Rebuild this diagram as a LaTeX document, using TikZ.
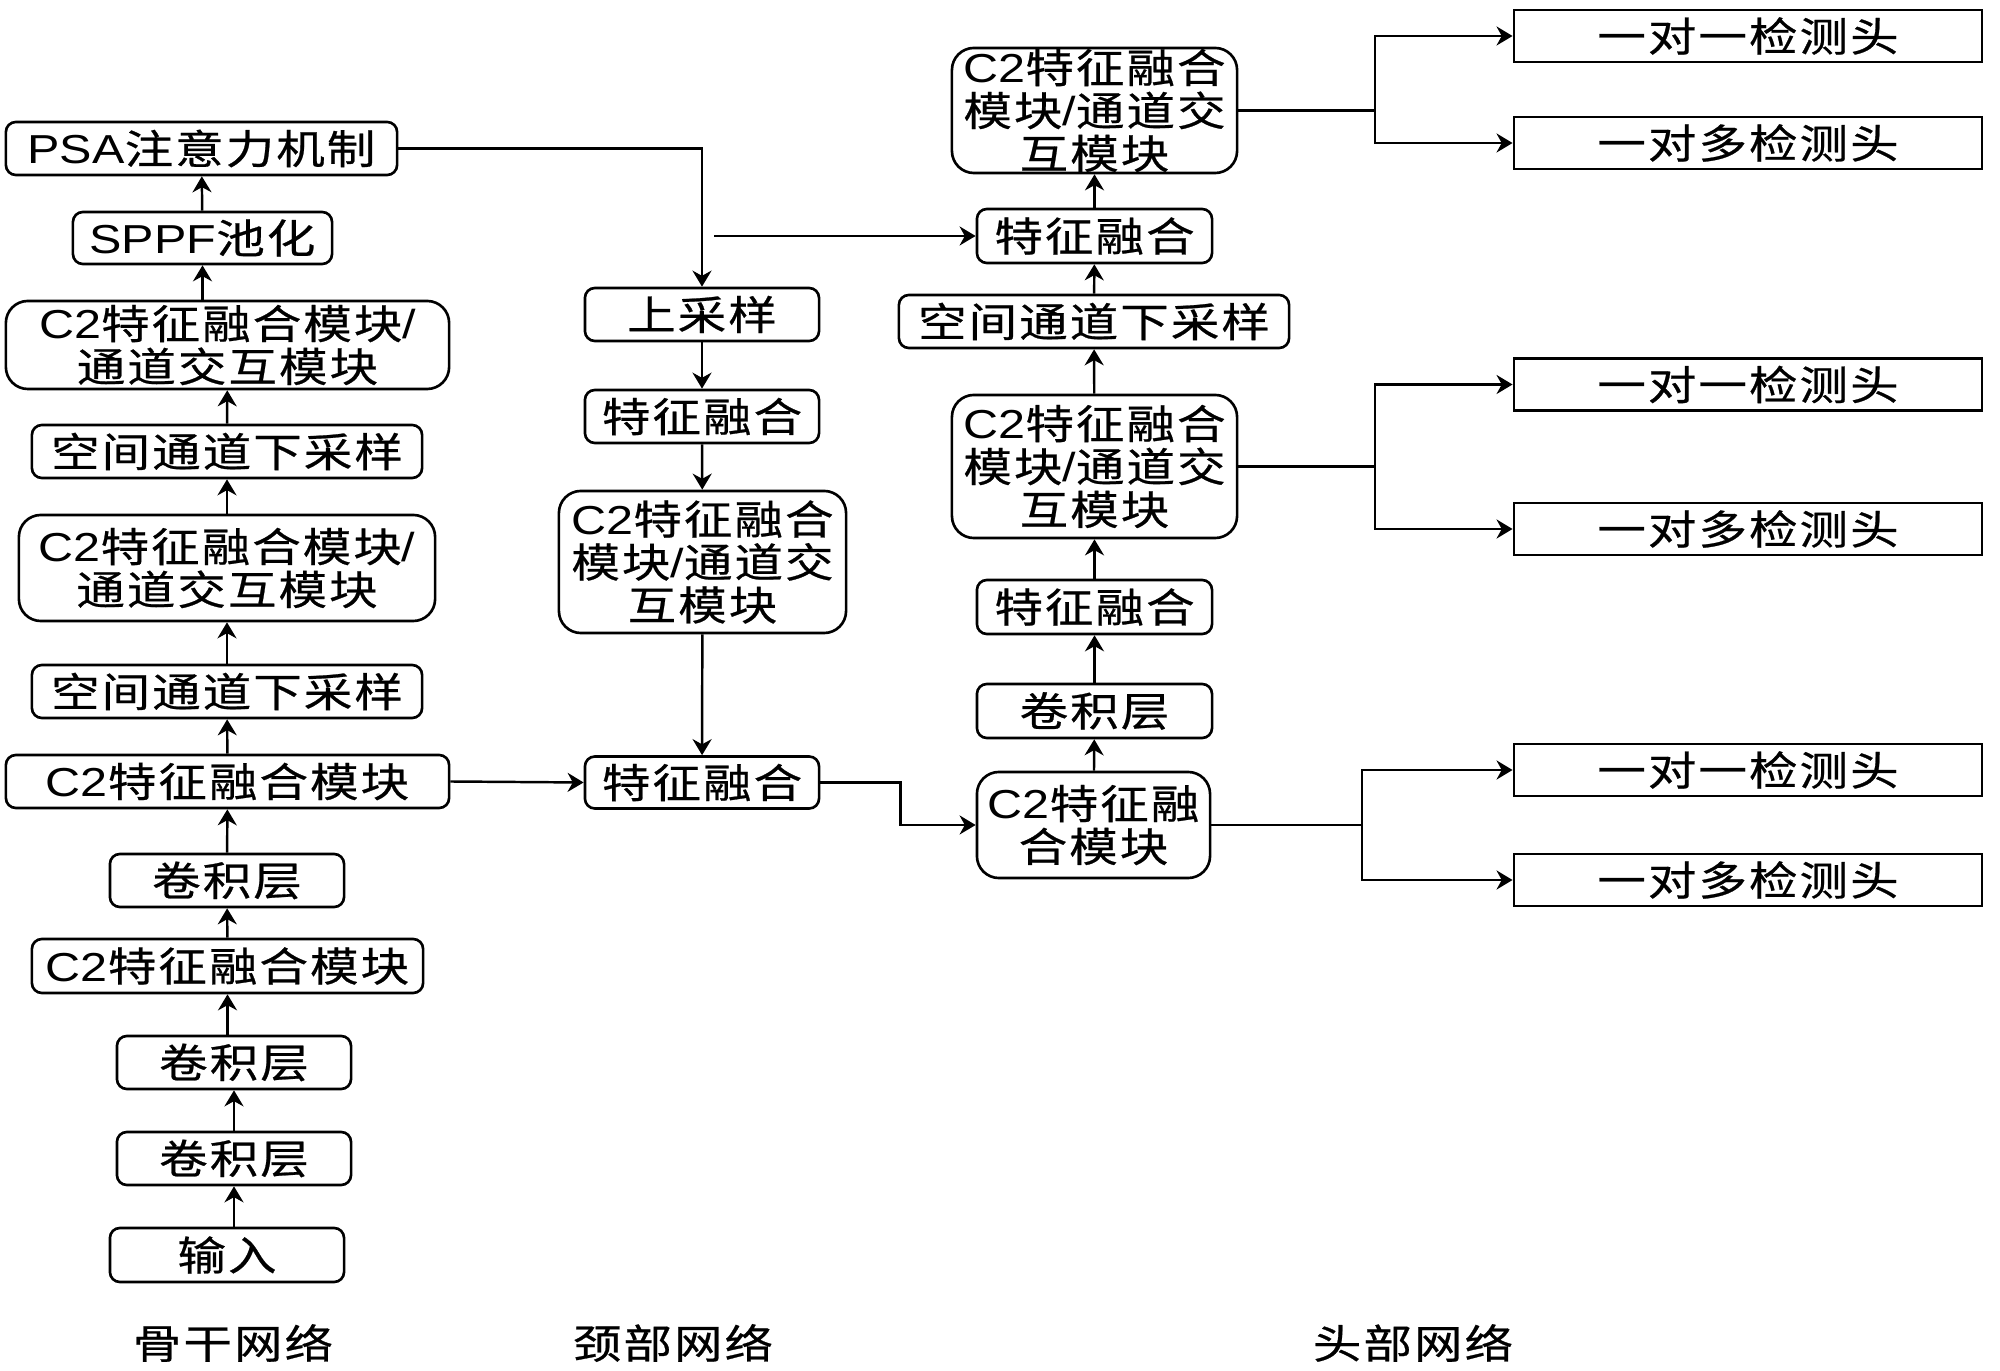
\documentclass[tikz,border=0pt]{standalone}
\usepackage{fontspec}
\setmainfont{Noto Sans CJK SC}[FakeStretch=1.2,LetterSpace=5,FakeBold=0.6]
\newfontfamily\lat{Liberation Sans}[FakeStretch=1.2]
\usetikzlibrary{arrows.meta}
\tikzset{
  txt/.style={font=\fontsize{11.5pt}{12.2pt}\selectfont, align=center, inner sep=0pt},
  box/.style={txt, draw, rounded corners=0.1cm, line width=0.75pt},
  tallbox/.style={txt, draw, rounded corners=0.22cm, line width=0.75pt},
  headbox/.style={txt, draw, line width=0.75pt, minimum width=4.68cm, minimum height=0.52cm},
  arr/.style={-{Stealth[length=0.16cm,width=0.19cm]}, line width=0.7pt},
  ln/.style={line width=0.7pt}
}
\begin{document}
\begin{tikzpicture}[x=0.01cm,y=-0.01cm]
\useasboundingbox (0,0) rectangle (2000,1371);
% backbone
\node[box, minimum width=3.91cm, minimum height=0.53cm] (psa) at (201.5,148.5) {{\lat PSA}注意力机制};
\node[box, minimum width=2.59cm, minimum height=0.52cm] (sppf) at (202.5,238) {{\lat SPPF}池化};
\node[tallbox, minimum width=4.43cm, minimum height=0.88cm] (c2d) at (227.5,345) {{\lat C2}特征融合模块{\lat /}\\通道交互模块};
\node[box, minimum width=3.90cm, minimum height=0.53cm] (ds2) at (227,451.5) {空间通道下采样};
\node[tallbox, minimum width=4.16cm, minimum height=1.06cm] (c2c) at (227,568) {{\lat C2}特征融合模块{\lat /}\\通道交互模块};
\node[box, minimum width=3.90cm, minimum height=0.53cm] (ds1) at (227,691.5) {空间通道下采样};
\node[box, minimum width=4.43cm, minimum height=0.53cm] (c2b) at (227.5,781.5) {{\lat C2}特征融合模块};
\node[box, minimum width=2.34cm, minimum height=0.53cm] (cv3) at (227,880.5) {卷积层};
\node[box, minimum width=3.91cm, minimum height=0.54cm] (c2a) at (227.5,966) {{\lat C2}特征融合模块};
\node[box, minimum width=2.34cm, minimum height=0.53cm] (cv2) at (234,1062.5) {卷积层};
\node[box, minimum width=2.34cm, minimum height=0.53cm] (cv1) at (234,1158.5) {卷积层};
\node[box, minimum width=2.34cm, minimum height=0.54cm] (inp) at (227,1255) {输入};
% neck
\node[box, minimum width=2.34cm, minimum height=0.53cm] (up) at (702,314.5) {上采样};
\node[box, minimum width=2.34cm, minimum height=0.53cm] (f1) at (702,416.5) {特征融合};
\node[tallbox, minimum width=2.87cm, minimum height=1.42cm] (c2n) at (702.5,562) {{\lat C2}特征融合\\模块{\lat /}通道交\\互模块};
\node[box, minimum width=2.34cm, minimum height=0.52cm] (f2) at (702,782.5) {特征融合};
% head
\node[tallbox, minimum width=2.85cm, minimum height=1.25cm] (hc2t) at (1094.5,110.5) {{\lat C2}特征融合\\模块{\lat /}通道交\\互模块};
\node[box, minimum width=2.35cm, minimum height=0.54cm] (hf1) at (1094.5,236) {特征融合};
\node[box, minimum width=3.90cm, minimum height=0.53cm] (hds) at (1094,321.5) {空间通道下采样};
\node[tallbox, minimum width=2.85cm, minimum height=1.43cm] (hc2m) at (1094.5,466.5) {{\lat C2}特征融合\\模块{\lat /}通道交\\互模块};
\node[box, minimum width=2.35cm, minimum height=0.54cm] (hf2) at (1094.5,607) {特征融合};
\node[box, minimum width=2.35cm, minimum height=0.54cm] (hcv) at (1094.5,711) {卷积层};
\node[tallbox, minimum width=2.33cm, minimum height=1.06cm] (hc2) at (1093.5,825) {{\lat C2}特征融\\合模块};
% detection heads
\node[headbox] (d1) at (1748,36) {一对一检测头};
\node[headbox] (d2) at (1748,143) {一对多检测头};
\node[headbox] (d3) at (1748,384.5) {一对一检测头};
\node[headbox] (d4) at (1748,529) {一对多检测头};
\node[headbox] (d5) at (1748,770) {一对一检测头};
\node[headbox] (d6) at (1748,880) {一对多检测头};
% labels
\node[txt] (lb) at (233,1343) {骨干网络};
\node[txt] (ln) at (673,1343) {颈部网络};
\node[txt] (lh) at (1413,1343) {头部网络};
% backbone connectors
\draw[arr] (inp.north -| cv1) -- (cv1.south);
\draw[arr] (cv1) -- (cv2);
\draw[arr] (cv2.north -| c2a) -- (c2a.south);
\draw[arr] (c2a) -- (cv3);
\draw[arr] (cv3) -- (c2b);
\draw[arr] (c2b) -- (ds1);
\draw[arr] (ds1) -- (c2c);
\draw[arr] (c2c) -- (ds2);
\draw[arr] (ds2) -- (c2d);
\draw[arr] (c2d.north -| sppf) -- (sppf.south);
\draw[arr] (sppf) -- (psa);
% neck connectors
\draw[arr] (psa.east) -| (up.north);
\draw[arr] (up) -- (f1);
\draw[arr] (f1) -- (c2n);
\draw[arr] (c2n) -- (f2);
\draw[arr] (c2b.east) -- (f2.west);
\draw[arr] (f2.east) -- ++(80,0) |- (hc2.west);
% head connectors
\draw[arr] (hc2) -- (hcv);
\draw[arr] (hcv) -- (hf2);
\draw[arr] (hf2) -- (hc2m);
\draw[arr] (hc2m) -- (hds);
\draw[arr] (hds) -- (hf1);
\draw[arr] (hf1) -- (hc2t);
\coordinate (src) at (714,236);
\draw[arr] (src) -- (hf1.west);
% branches
\draw[ln] (hc2t.east) -- (1375,110.5) coordinate (b1);
\draw[arr] (b1) |- (d1.west);
\draw[arr] (b1) |- (d2.west);
\draw[ln] (hc2m.east) -- (1375,466.5) coordinate (b2);
\draw[arr] (b2) |- (d3.west);
\draw[arr] (b2) |- (d4.west);
\draw[ln] (hc2.east) -- (1362,825) coordinate (b3);
\draw[arr] (b3) |- (d5.west);
\draw[arr] (b3) |- (d6.west);
\end{tikzpicture}
\end{document}
